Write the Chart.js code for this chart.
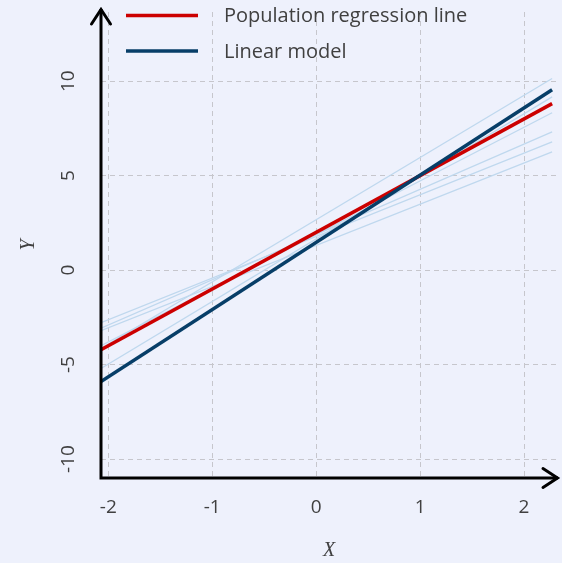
<!DOCTYPE html>
<html>
<head>
<meta charset="utf-8">
<script src="https://cdn.jsdelivr.net/npm/chart.js@4/dist/chart.umd.min.js"></script>
<style>
  html, body { margin: 0; padding: 0; background: #eef1fc; }
  #wrap { width: 562px; height: 563px; }
</style>
</head>
<body>
<div id="wrap"><canvas id="c" width="562" height="563"></canvas></div>
<script>
// X positions where every line starts and ends
const xEnds = [-2.07, 2.27];
// Y values of each line at those two X positions
const populationLine = [-4.21, 8.81];
const linearModel = [-5.9, 9.55];
const sampleFits = [
  [-3.2, 6.26],
  [-2.78, 6.79],
  [-3.07, 7.32],
  [-5.2, 9.17],
  [-4.15, 10.14],
  [-4.0, 8.33]
];
const xTicks = [-2, -1, 0, 1, 2];
const yTicks = [-10, -5, 0, 5, 10];
const seriesLabels = ['Population regression line', 'Linear model'];

const toPoints = ys => xEnds.map((x, i) => ({ x: x, y: ys[i] }));

const BG = '#eef1fc';
const TEXT = '#404040';
const UI_FONT = "'Open Sans', 'Noto Sans', sans-serif";
const TITLE_FONT = "'Liberation Serif', 'DejaVu Serif', serif";

const datasets = [
  {
    label: seriesLabels[1],
    data: toPoints(linearModel),
    borderColor: '#073e68',
    borderWidth: 3.5,
    order: 0,
    inLegend: true
  },
  {
    label: seriesLabels[0],
    data: toPoints(populationLine),
    borderColor: '#cc0000',
    borderWidth: 3.5,
    order: 1,
    inLegend: true
  }
].concat(sampleFits.map((ys, i) => ({
  label: 'fit ' + (i + 1),
  data: toPoints(ys),
  borderColor: '#bfd8ee',
  borderWidth: 1.3,
  order: 2
})));

// background, arrowed axes, rotated y tick labels and legend
const decorations = {
  id: 'decorations',
  beforeDraw(chart) {
    const ctx = chart.ctx;
    ctx.save();
    ctx.fillStyle = BG;
    ctx.fillRect(0, 0, chart.width, chart.height);
    ctx.restore();
  },
  afterDatasetsDraw(chart) {
    const ctx = chart.ctx;
    const a = chart.chartArea;
    const ys = chart.scales.y;

    // axes with arrow heads
    ctx.save();
    ctx.strokeStyle = '#000';
    ctx.lineWidth = 3;
    ctx.lineCap = 'butt';
    ctx.beginPath();
    ctx.moveTo(a.left, a.bottom + 1.5);
    ctx.lineTo(a.left, 9);
    ctx.moveTo(a.left - 1.5, a.bottom);
    ctx.lineTo(558, a.bottom);
    ctx.stroke();
    ctx.lineCap = 'round';
    ctx.lineJoin = 'miter';
    ctx.beginPath();
    ctx.moveTo(a.left - 9.5, 24);
    ctx.lineTo(a.left, 9.5);
    ctx.lineTo(a.left + 9.5, 24);
    ctx.moveTo(543, a.bottom - 9.5);
    ctx.lineTo(557.5, a.bottom);
    ctx.lineTo(543, a.bottom + 9.5);
    ctx.stroke();
    ctx.restore();

    // y tick labels, rotated
    ctx.save();
    ctx.fillStyle = TEXT;
    ctx.font = '19px ' + UI_FONT;
    ctx.textAlign = 'center';
    ctx.textBaseline = 'middle';
    yTicks.forEach(v => {
      ctx.save();
      ctx.translate(69, ys.getPixelForValue(v));
      ctx.rotate(-Math.PI / 2);
      ctx.fillText(String(v), 0, 0);
      ctx.restore();
    });
    ctx.restore();

    // legend
    ctx.save();
    ctx.font = '20px ' + UI_FONT;
    ctx.fillStyle = TEXT;
    ctx.textAlign = 'left';
    ctx.textBaseline = 'middle';
    const entries = chart.data.datasets.filter(d => d.inLegend)
      .sort((p, q) => seriesLabels.indexOf(p.label) - seriesLabels.indexOf(q.label));
    entries.forEach((d, i) => {
      const yy = 15.5 + i * 35.5;
      ctx.strokeStyle = d.borderColor;
      ctx.lineWidth = 3.5;
      ctx.beginPath();
      ctx.moveTo(126, yy);
      ctx.lineTo(198, yy);
      ctx.stroke();
      ctx.fillText(d.label, 224, yy + 1);
    });
    ctx.restore();
  }
};

new Chart(document.getElementById('c'), {
  type: 'line',
  data: { datasets: datasets },
  options: {
    responsive: false,
    animation: false,
    events: [],
    layout: { padding: { top: 12, right: 5, left: 0, bottom: 0 } },
    elements: { point: { radius: 0 }, line: { tension: 0 } },
    plugins: { legend: { display: false }, tooltip: { enabled: false } },
    scales: {
      x: {
        type: 'linear',
        min: -2.07,
        max: 2.317,
        afterBuildTicks: s => { s.ticks = xTicks.map(v => ({ value: v })); },
        afterFit: s => { s.height = 85; },
        grid: { color: '#c6c6cc', lineWidth: 1, drawTicks: false },
        border: { display: false, dash: [5, 4] },
        ticks: {
          color: TEXT,
          font: { family: UI_FONT, size: 19 },
          padding: 18,
          maxRotation: 0,
          autoSkip: false
        },
        title: {
          display: true,
          text: 'X',
          color: TEXT,
          font: { family: TITLE_FONT, size: 20, style: 'italic' },
          padding: { top: 0, bottom: 0 }
        }
      },
      y: {
        type: 'linear',
        min: -11,
        max: 13.66,
        afterBuildTicks: s => { s.ticks = yTicks.map(v => ({ value: v })); },
        afterFit: s => { s.width = 101; },
        grid: { color: '#c6c6cc', lineWidth: 1, drawTicks: false },
        border: { display: false, dash: [5, 4] },
        ticks: { display: false },
        title: {
          display: true,
          text: 'Y',
          color: TEXT,
          font: { family: TITLE_FONT, size: 20, style: 'italic' },
          padding: { top: 17, bottom: 0 }
        }
      }
    }
  },
  plugins: [decorations]
});
</script>
</body>
</html>
